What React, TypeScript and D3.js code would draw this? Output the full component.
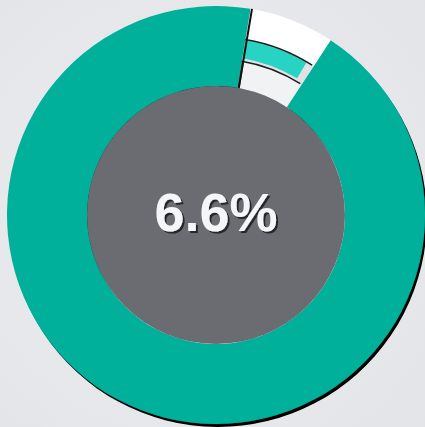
import { useEffect, useRef } from "react";
import * as d3 from "d3";

// slice values (percent)
const labels = ["Value", "Rest"];
const values = [6.6, 93.4];
const centerLabel = "6.6%";

const W = 425;
const H = 427;

const App = () => {
  const ref = useRef<SVGSVGElement | null>(null);

  useEffect(() => {
    document.body.style.margin = "0";
    if (ref.current === null) return;
    const svg = d3.select(ref.current);
    svg.selectAll("*").remove();

    const cx = 216;
    const cy = 215;
    const rOuter = 209;
    const rInner = 129;

    const defs = svg.append("defs");
    const bg = defs
      .append("radialGradient")
      .attr("id", "bg")
      .attr("cx", "45%")
      .attr("cy", "50%")
      .attr("r", "75%");
    bg.append("stop").attr("offset", "0%").attr("stop-color", "#eceef0");
    bg.append("stop").attr("offset", "100%").attr("stop-color", "#e2e4e7");

    const shadow = defs.append("filter").attr("id", "shadow").attr("x", "-10%").attr("y", "-10%").attr("width", "120%").attr("height", "120%");
    shadow
      .append("feDropShadow")
      .attr("dx", 2)
      .attr("dy", 3)
      .attr("stdDeviation", 0.4)
      .attr("flood-color", "#000")
      .attr("flood-opacity", 1);

    const txtShadow = defs.append("filter").attr("id", "tshadow");
    txtShadow
      .append("feDropShadow")
      .attr("dx", 2)
      .attr("dy", 2)
      .attr("stdDeviation", 0.6)
      .attr("flood-color", "#1e1f22")
      .attr("flood-opacity", 0.9);

    svg.append("rect").attr("width", W).attr("height", H).attr("fill", "url(#bg)");

    const g = svg.append("g").attr("transform", `translate(${cx},${cy})`);

    const start = (9.5 * Math.PI) / 180;
    const pie = d3
      .pie<number>()
      .sort(null)
      .value((d) => d)
      .startAngle(start)
      .endAngle(start + 2 * Math.PI);
    const arcs = pie(values);
    const gap = arcs[0];
    const main = arcs[1];

    const arc = d3.arc<any>();

    // main teal ring
    g.append("path")
      .attr("d", arc({ ...main, innerRadius: rInner, outerRadius: rOuter }))
      .attr("fill", "#00b09b")
      .attr("filter", "url(#shadow)");

    // the small slice: white bands with a teal stripe
    g.append("path")
      .attr("d", arc({ ...gap, innerRadius: 178, outerRadius: rOuter }))
      .attr("fill", "#ffffff");
    g.append("path")
      .attr("d", arc({ ...gap, innerRadius: rInner, outerRadius: 156 }))
      .attr("fill", "#ffffff")
      .attr("fill-opacity", 0.4);
    g.append("path")
      .attr("d", arc({ ...gap, innerRadius: 156, outerRadius: 178 }))
      .attr("fill", "#dfe1e4");
    g.append("path")
      .attr("d", arc({ startAngle: gap.startAngle, endAngle: gap.endAngle - 0.045, innerRadius: 159, outerRadius: 177.5 }))
      .attr("fill", "#27d4c4");
    [156, 178].forEach((r) => {
      g.append("path")
        .attr(
          "d",
          d3
            .arc<any>()
            .innerRadius(r)
            .outerRadius(r)({ startAngle: gap.startAngle, endAngle: gap.endAngle - 0.01 })
        )
        .attr("fill", "none")
        .attr("stroke", "#1c1c1c")
        .attr("stroke-width", 1.5);
    });

    // left edge of the teal ring casts onto the gap
    const a0 = gap.startAngle;
    g.append("line")
      .attr("x1", Math.sin(a0) * rInner + 1.5)
      .attr("y1", -Math.cos(a0) * rInner)
      .attr("x2", Math.sin(a0) * rOuter + 1.5)
      .attr("y2", -Math.cos(a0) * rOuter)
      .attr("stroke", "#111")
      .attr("stroke-width", 2);

    // grey center
    g.append("circle").attr("r", rInner).attr("fill", "#6b6c71");

    g.append("text")
      .attr("x", 0)
      .attr("y", 16)
      .attr("text-anchor", "middle")
      .attr("font-family", "'Liberation Sans', Arial, sans-serif")
      .attr("font-weight", "bold")
      .attr("font-size", 54)
      .attr("fill", "#f4f6f8")
      .attr("filter", "url(#tshadow)")
      .text(centerLabel);
  }, []);

  return <svg ref={ref} width={W} height={H} style={{ display: "block" }} aria-label={labels.join(", ")} />;
};

export default App;
